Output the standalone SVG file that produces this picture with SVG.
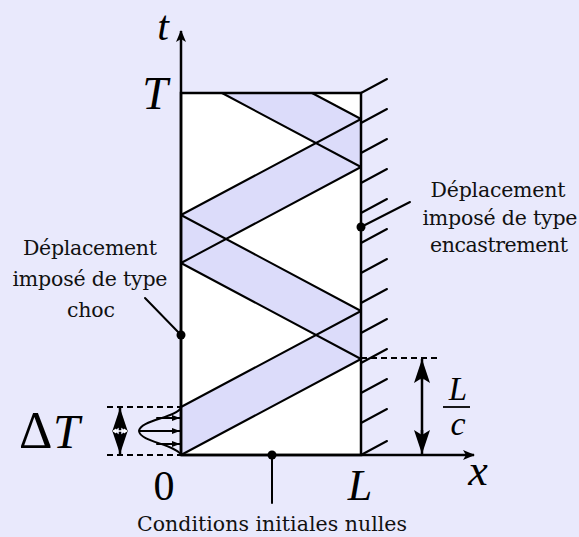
<svg xmlns="http://www.w3.org/2000/svg" width="579" height="537" viewBox="0 0 579 537">
<defs>
<style>
.bg{fill:#E9E9FC}
.band{fill:#DCDCFA;stroke:none}
.ln{stroke:#000;stroke-width:2;fill:none;stroke-linecap:round}
.thick{stroke:#000;stroke-width:2.5;fill:none}
.dash{stroke:#000;stroke-width:2;stroke-dasharray:6 4;fill:none}
.txt{font-family:"DejaVu Serif","Liberation Serif",serif;font-size:20.5px;fill:#111;text-anchor:middle}
.math{font-family:"Liberation Serif","Times New Roman",serif;font-style:italic;fill:#000}
.rm{font-family:"Liberation Serif","Times New Roman",serif;fill:#000}
</style>
<marker id="ax" viewBox="0 0 12 10" refX="11" refY="5" markerWidth="12" markerHeight="10" markerUnits="userSpaceOnUse" orient="auto">
<path d="M0,0 L12,5 L0,10 L3,5 Z" fill="#000"/>
</marker>
<marker id="sm" viewBox="0 0 8 6" refX="8" refY="3" markerWidth="8" markerHeight="6" markerUnits="userSpaceOnUse" orient="auto">
<path d="M0,0 L8,3 L0,6 Z" fill="#000"/>
</marker>
<marker id="big" viewBox="0 0 24 16" refX="24" refY="8" markerWidth="24" markerHeight="16" markerUnits="userSpaceOnUse" orient="auto">
<path d="M0,0 L24,8 L0,16 L5,8 Z" fill="#000"/>
</marker>
</defs>
<rect class="bg" x="0" y="0" width="579" height="537"/>

<g id="domain">
<rect x="181" y="93" width="180" height="362" fill="#fff"/>
<polygon class="band" points="181,455 181,407 361,311 361,359"/>
<polygon class="band" points="361,311 361,359 181,263 181,215"/>
<polygon class="band" points="181,215 181,263 361,167 361,119"/>
<polygon class="band" points="361,119 312,93 222,93 361,167"/>
<rect x="181" y="93" width="180" height="362" class="thick"/>
</g>

<g id="connectors">
<line class="ln" x1="181" y1="407" x2="361" y2="311"/>
<line class="ln" x1="181" y1="455" x2="361" y2="359"/>
<line class="ln" x1="361" y1="311" x2="181" y2="215"/>
<line class="ln" x1="361" y1="359" x2="181" y2="263"/>
<line class="ln" x1="181" y1="215" x2="361" y2="119"/>
<line class="ln" x1="181" y1="263" x2="361" y2="167"/>
<line class="ln" x1="361" y1="119" x2="312" y2="93"/>
<line class="ln" x1="361" y1="167" x2="222" y2="93"/>
</g>

<g id="axes">
<line class="thick" x1="181" y1="455" x2="181" y2="31" marker-end="url(#ax)"/>
<line class="thick" x1="181" y1="455" x2="474" y2="455" marker-end="url(#ax)"/>
<text class="math" x="163" y="40" font-size="42" text-anchor="middle">t</text>
<text class="math" x="155" y="109" font-size="46" text-anchor="middle">T</text>
<text class="rm" x="164" y="500" font-size="42" text-anchor="middle">0</text>
<text class="math" x="360" y="500" font-size="44" text-anchor="middle">L</text>
<text class="math" x="478" y="485" font-size="44" text-anchor="middle">x</text>
</g>

<g id="wall">
<g class="ln">
<line x1="361" y1="93" x2="387" y2="79"/>
<line x1="361" y1="123" x2="387" y2="109"/>
<line x1="361" y1="153" x2="387" y2="139"/>
<line x1="361" y1="183" x2="387" y2="169"/>
<line x1="361" y1="213" x2="387" y2="199"/>
<line x1="361" y1="243" x2="387" y2="229"/>
<line x1="361" y1="273" x2="387" y2="259"/>
<line x1="361" y1="303" x2="387" y2="289"/>
<line x1="361" y1="333" x2="387" y2="319"/>
<line x1="361" y1="363" x2="387" y2="349"/>
<line x1="361" y1="393" x2="387" y2="379"/>
<line x1="361" y1="423" x2="387" y2="409"/>
<line x1="361" y1="455" x2="387" y2="441"/>
</g>
</g>

<g id="label-encastrement">
<line class="ln" x1="361" y1="227" x2="410" y2="202"/>
<circle cx="361" cy="227" r="4.5" fill="#000"/>
<text class="txt" x="498" y="197" textLength="135">Déplacement</text>
<text class="txt" x="500" y="225" textLength="155">imposé de type</text>
<text class="txt" x="499" y="252" textLength="138">encastrement</text>
</g>

<g id="label-choc">
<line class="ln" x1="181" y1="335" x2="145" y2="298"/>
<circle cx="181" cy="335" r="4.5" fill="#000"/>
<text class="txt" x="90" y="255" textLength="134">Déplacement</text>
<text class="txt" x="90" y="286" textLength="155">imposé de type</text>
<text class="txt" x="91" y="317" textLength="48">choc</text>
</g>

<g id="label-initial">
<line class="ln" x1="272" y1="455" x2="272" y2="503"/>
<circle cx="272" cy="455" r="4.5" fill="#000"/>
<text class="txt" x="272" y="531" textLength="270">Conditions initiales nulles</text>
</g>

<g id="label-LC">
<line class="dash" x1="361" y1="358" x2="438" y2="358"/>
<line class="thick" x1="422" y1="380" x2="422" y2="359" marker-end="url(#big)"/>
<line class="thick" x1="422" y1="430" x2="422" y2="454" marker-end="url(#big)"/>
<line class="thick" x1="422" y1="375" x2="422" y2="440"/>
<text class="math" x="458" y="400" font-size="33" text-anchor="middle">L</text>
<line x1="443" y1="407" x2="470" y2="407" stroke="#000" stroke-width="1.8"/>
<text class="math" x="458" y="435" font-size="34" text-anchor="middle">c</text>
</g>

<g id="label-deltaT">
<line class="dash" x1="107" y1="407" x2="181" y2="407"/>
<line class="dash" x1="107" y1="455" x2="181" y2="455"/>
<line class="thick" x1="120" y1="431" x2="120" y2="408" marker-end="url(#big)"/>
<line class="thick" x1="120" y1="431" x2="120" y2="454" marker-end="url(#big)"/>
<line x1="114" y1="431" x2="126" y2="431" stroke="#fff" stroke-width="1.5"/>
<path d="M112,431 L116,428.5 L116,433.5 Z M128,431 L124,428.5 L124,433.5 Z" fill="#fff"/>
<text class="rm" x="19" y="448" font-size="52">Δ</text>
<text class="math" x="53" y="448" font-size="48">T</text>
</g>

<g id="pulse">
<path class="ln" d="M181,408 C175,418 140,420 139,431 C140,442 175,444 181,455"/>
<line class="ln" x1="157" y1="418" x2="180" y2="418" marker-end="url(#sm)"/>
<line class="ln" x1="140" y1="431" x2="180" y2="431" marker-end="url(#sm)"/>
<line class="ln" x1="157" y1="444" x2="180" y2="444" marker-end="url(#sm)"/>
</g>
</svg>
